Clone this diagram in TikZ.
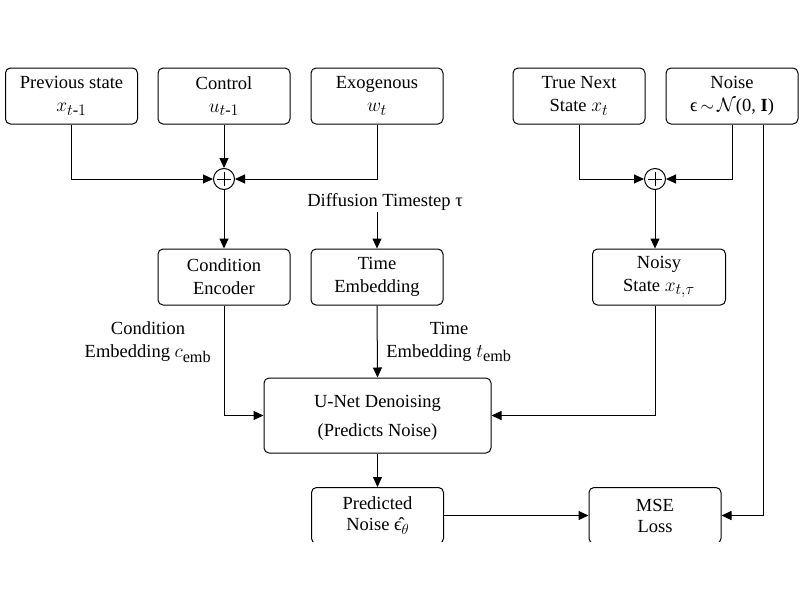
\documentclass[tikz,border=0pt]{standalone}
\usepackage{amsmath}
\usepackage{fontspec}
\setmainfont{Liberation Serif}
\DeclareMathSizes{18.5}{18.5}{14.5}{11}
\usetikzlibrary{arrows.meta,calc}
\newcommand{\bm}[1]{\scalebox{1.12}{$#1$}}
\begin{document}
\begin{tikzpicture}[x=1pt,y=-1pt,
  box/.style={draw,rounded corners=5pt,line width=1pt,minimum width=132pt,minimum height=56pt,align=center,inner sep=2pt},
  sumnode/.style={draw,circle,line width=1pt,minimum size=21pt,inner sep=0pt},
  lbl/.style={align=center,inner sep=1pt},
  arr/.style={line width=1pt,-{Triangle[length=10pt,width=9pt]}},
  ln/.style={line width=1pt}]
\useasboundingbox (0,0) rectangle (800,600);
\fontsize{18.5}{23}\selectfont
\begin{scope}
\clip (0,0) rectangle (800,541);
\node[box] (prev) at (71.5,96) {Previous state\\\bm{x_{t\text{-}1}}};
\node[box] (ctrl) at (224,96) {Control\\\bm{u_{t\text{-}1}}};
\node[box] (exo) at (377,96) {Exogenous\\\bm{w_t}};
\node[box] (truen) at (579,96) {True Next\\State \bm{x_t}};
\node[box] (noise) at (732,96) {Noise\\ϵ\,$\sim$\,\bm{\mathcal{N}}(0, \textbf{I})};
\node[sumnode] (plus1) at (224,179) {};
\node[sumnode] (plus2) at (655,179) {};
\foreach \p in {plus1,plus2}{
  \draw[ln] ($(\p)+(-7,0)$) -- ($(\p)+(7,0)$);
  \draw[ln] ($(\p)+(0,-7)$) -- ($(\p)+(0,7)$);
}
\node[lbl] (diff) at (385,202) {Diffusion Timestep τ};
\node[box] (cond) at (224,277) {Condition\\Encoder};
\node[box] (time) at (377,277) {Time\\Embedding};
\node[box,minimum width=133pt] (noisy) at (659,277) {Noisy\\State \bm{x_{t,\tau}}};
\node[lbl] (cemb) at (148,342) {Condition\\Embedding \bm{c_{\mathrm{emb}}}};
\node[lbl] (temb) at (449,342) {Time\\Embedding \bm{t_{\mathrm{emb}}}};
\node[box,minimum width=227pt,minimum height=75pt,text depth=0pt] (unet) at (377.5,415.5) {U-Net Denoising\\[6pt](Predicts Noise)};
\node[box,minimum height=56pt,anchor=north,font=\fontsize{18.5}{21}\selectfont] (pred) at (377.5,487) {Predicted\\Noise ϵ̂\raisebox{-4pt}{\scalebox{0.85}{$\theta$}}};
\node[box,minimum height=56pt,anchor=north,font=\fontsize{18.5}{21}\selectfont] (mse) at (655,487) {MSE\\Loss};
\coordinate (ntap) at ($(noise.south)+(31,0)$);
\draw[arr] (prev.south) |- (plus1.west);
\draw[arr] (ctrl.south) -- (plus1.north);
\draw[arr] (exo.south) |- (plus1.east);
\draw[arr] (truen.south) |- (plus2.west);
\draw[arr] (noise.south) |- (plus2.east);
\draw[arr] (plus1.south) -- (cond.north);
\draw[arr] (time.north |- diff.south) -- (time.north);
\draw[arr] (plus2.south) -- (plus2 |- noisy.north);
\draw[arr] (cond.south) |- (unet.west);
\draw[arr] (time.south) -- (unet.north);
\draw[arr] (plus2 |- noisy.south) |- (unet.east);
\draw[arr] (unet.south) -- (pred.north);
\draw[arr] (pred.east |- mse.west) -- (mse.west);
\draw[arr] (ntap) |- (mse.east);
\end{scope}
\end{tikzpicture}
\end{document}
